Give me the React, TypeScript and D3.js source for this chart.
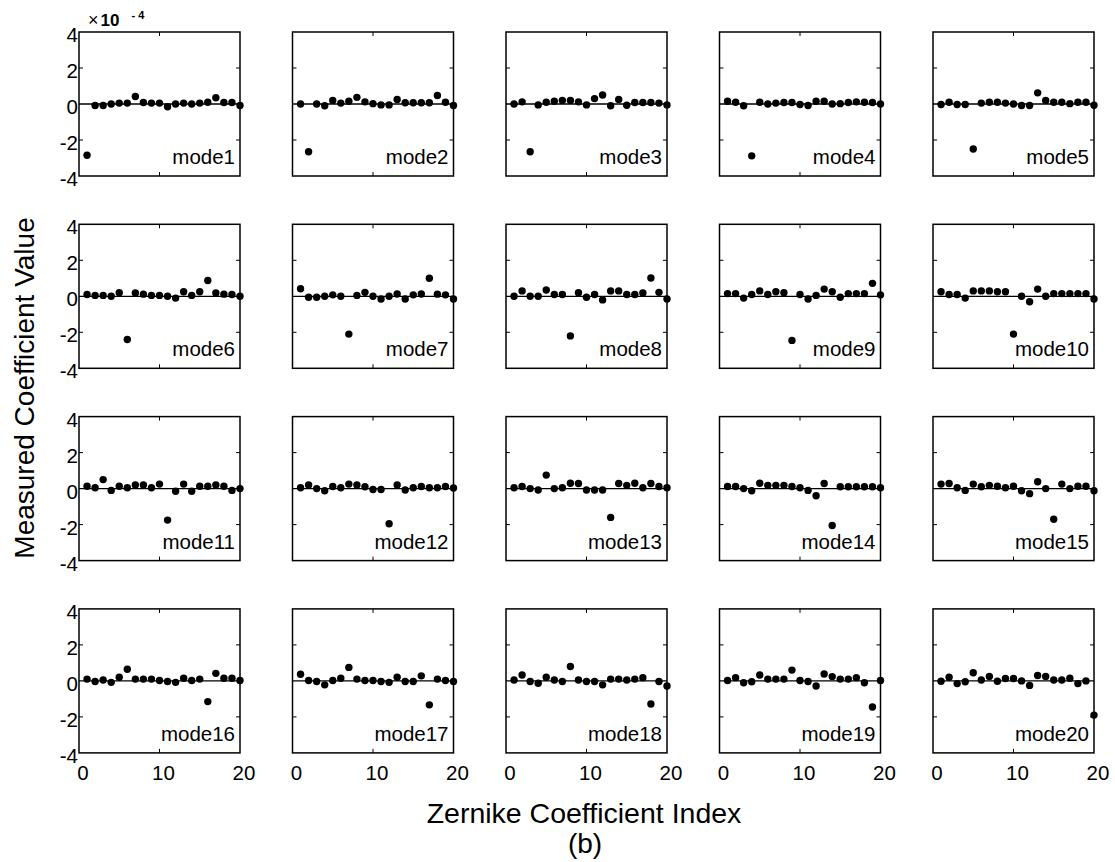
import * as d3 from "d3";
import React from "react";

// x positions of the measured coefficients
const zernikeIndex = [1, 2, 3, 4, 5, 6, 7, 8, 9, 10, 11, 12, 13, 14, 15, 16, 17, 18, 19, 20];

// measured coefficient values (x 10^-4), one array per applied mode
const mode1 = [-2.85, -0.08, -0.08, 0.0, 0.05, 0.05, 0.42, 0.08, 0.05, 0.05, -0.15, 0.0, 0.05, 0.0, 0.05, 0.1, 0.35, 0.08, 0.08, -0.08];
const mode2 = [0.0, -2.65, 0.0, -0.1, 0.2, 0.05, 0.15, 0.37, 0.12, 0.02, -0.05, -0.05, 0.25, 0.07, 0.07, 0.07, 0.07, 0.47, 0.1, -0.08];
const mode3 = [0.0, 0.12, -2.65, -0.05, 0.1, 0.15, 0.2, 0.2, 0.12, -0.05, 0.3, 0.5, -0.1, 0.25, -0.07, 0.08, 0.08, 0.08, 0.05, -0.05];
const mode4 = [0.15, 0.1, -0.1, -2.88, 0.1, 0.0, 0.05, 0.08, 0.08, -0.03, -0.08, 0.15, 0.15, 0.0, 0.02, 0.08, 0.12, 0.1, 0.08, 0.0];
const mode5 = [-0.03, 0.1, -0.03, -0.03, -2.5, 0.05, 0.1, 0.1, 0.05, 0.0, -0.08, -0.08, 0.62, 0.2, 0.1, 0.1, 0.02, 0.1, 0.1, -0.07];
const mode6 = [0.1, 0.05, 0.05, 0.0, 0.2, -2.4, 0.18, 0.12, 0.05, 0.05, 0.0, -0.1, 0.25, 0.05, 0.25, 0.88, 0.18, 0.12, 0.1, 0.0];
const mode7 = [0.42, -0.05, -0.05, 0.0, 0.08, 0.0, -2.1, 0.05, 0.22, 0.0, -0.15, 0.0, 0.13, -0.15, 0.08, 0.13, 1.0, 0.12, 0.08, -0.15];
const mode8 = [0.0, 0.3, 0.0, 0.0, 0.35, 0.1, 0.1, -2.2, 0.2, -0.05, 0.1, -0.2, 0.3, 0.3, 0.1, 0.1, 0.18, 1.02, 0.22, -0.15];
const mode9 = [0.15, 0.15, -0.1, 0.1, 0.3, 0.1, 0.25, 0.2, -2.45, 0.1, -0.15, 0.05, 0.4, 0.25, -0.05, 0.15, 0.15, 0.15, 0.72, 0.08];
const mode10 = [0.25, 0.1, 0.1, -0.1, 0.3, 0.3, 0.3, 0.25, 0.25, -2.1, 0.0, -0.3, 0.4, 0.0, 0.15, 0.15, 0.15, 0.15, 0.15, -0.15];
const mode11 = [0.13, 0.05, 0.5, -0.1, 0.13, 0.05, 0.2, 0.2, 0.05, 0.25, -1.75, -0.15, 0.25, -0.15, 0.13, 0.13, 0.2, 0.13, -0.1, 0.0];
const mode12 = [0.05, 0.2, 0.0, -0.12, 0.12, 0.05, 0.25, 0.2, 0.1, -0.05, -0.05, -1.95, 0.2, -0.08, 0.05, 0.12, 0.05, 0.05, 0.12, 0.03];
const mode13 = [0.05, 0.12, 0.0, -0.08, 0.75, 0.0, 0.05, 0.3, 0.28, -0.08, -0.08, -0.08, -1.6, 0.28, 0.18, 0.3, 0.05, 0.28, 0.12, 0.05];
const mode14 = [0.12, 0.12, 0.0, -0.12, 0.3, 0.18, 0.18, 0.18, 0.12, 0.05, -0.1, -0.4, 0.28, -2.05, 0.1, 0.1, 0.1, 0.1, 0.1, 0.05];
const mode15 = [0.25, 0.28, 0.05, -0.1, 0.25, 0.1, 0.18, 0.13, 0.05, 0.13, -0.12, -0.28, 0.38, 0.0, -1.7, 0.25, 0.0, 0.13, 0.13, -0.12];
const mode16 = [0.1, -0.03, 0.05, -0.08, 0.2, 0.65, 0.1, 0.1, 0.1, 0.02, -0.03, -0.08, 0.15, 0.02, 0.1, -1.15, 0.42, 0.15, 0.15, 0.02];
const mode17 = [0.37, 0.02, -0.03, -0.22, 0.02, 0.15, 0.75, 0.1, 0.02, 0.02, -0.03, -0.08, 0.2, -0.03, -0.03, 0.28, -1.33, 0.1, 0.02, -0.03];
const mode18 = [0.05, 0.33, -0.03, -0.13, 0.2, 0.05, -0.03, 0.8, 0.05, -0.03, -0.03, -0.22, 0.1, 0.1, 0.05, 0.1, 0.18, -1.28, -0.03, -0.28];
const mode19 = [0.02, 0.18, -0.1, -0.05, 0.33, 0.1, 0.1, 0.1, 0.6, 0.02, -0.03, -0.28, 0.38, 0.24, 0.1, 0.1, 0.18, -0.1, -1.45, 0.02];
const mode20 = [-0.02, 0.2, -0.15, -0.05, 0.45, 0.05, 0.25, -0.02, 0.13, 0.13, 0.0, -0.25, 0.3, 0.25, 0.05, 0.05, 0.15, -0.15, 0.0, -1.9];

const modes = [mode1, mode2, mode3, mode4, mode5, mode6, mode7, mode8, mode9, mode10,
  mode11, mode12, mode13, mode14, mode15, mode16, mode17, mode18, mode19, mode20];
const modeNames = modes.map((_, i) => `mode${i + 1}`);

const xTicks = [0, 10, 20];
const yTicks = [-4, -2, 0, 2, 4];

const FONT = "'Liberation Sans', Arial, Helvetica, sans-serif";
const W = 161;
const H = 144;
const COLS = 5;

function Panel({ values, name, row, col }) {
  const left = 79 + col * 213.5;
  const top = 32 + row * 192.3;
  const x = d3.scaleLinear().domain([0, 20]).range([0, W]);
  const y = d3.scaleLinear().domain([-4, 4]).range([H, 0]);
  const tick = 4;

  return (
    <g transform={`translate(${left},${top})`}>
      <rect x={0} y={0} width={W} height={H} fill="none" stroke="#000" strokeWidth={1.5} />
      {/* inner ticks */}
      {xTicks.slice(1, -1).map(t => (
        <g key={"xt" + t}>
          <line x1={x(t)} x2={x(t)} y1={H} y2={H - tick} stroke="#000" strokeWidth={1} />
          <line x1={x(t)} x2={x(t)} y1={0} y2={tick} stroke="#000" strokeWidth={1} />
        </g>
      ))}
      {yTicks.slice(1, -1).filter(t => t !== 0).map(t => (
        <g key={"yt" + t}>
          <line x1={0} x2={tick} y1={y(t)} y2={y(t)} stroke="#000" strokeWidth={1} />
          <line x1={W} x2={W - tick} y1={y(t)} y2={y(t)} stroke="#000" strokeWidth={1} />
        </g>
      ))}
      <line x1={0} x2={W} y1={y(0)} y2={y(0)} stroke="#000" strokeWidth={1.3} />
      {values.map((v, i) => (
        <circle key={i} cx={x(zernikeIndex[i])} cy={y(v)} r={3.7} fill="#000" />
      ))}
      <text x={W - 5} y={H - 12} textAnchor="end" fontFamily={FONT} fontSize={20.5} fill="#000">{name}</text>
      {col === 0 && yTicks.map(t => (
        <text key={"yl" + t} x={-1} y={y(t) + 10} textAnchor="end" fontFamily={FONT} fontSize={20.5} fill="#000">{t}</text>
      ))}
      {row === 3 && xTicks.map(t => (
        <text key={"xl" + t} x={x(t) + 4} y={H + 27} textAnchor="middle" fontFamily={FONT} fontSize={20.5} fill="#000">{t}</text>
      ))}
      {row === 0 && col === 0 && (
        <text x={9} y={-6} fontFamily={FONT} fill="#000">
          <tspan fontSize={18}>×</tspan>
          <tspan fontSize={17} fontWeight="bold" dx={2}>10</tspan>
          <tspan fontSize={11} fontWeight="bold" dx={12} dy={-7}>- 4</tspan>
        </text>
      )}
    </g>
  );
}

export default function App() {
  return (
    <svg width={1115} height={862} style={{ position: "absolute", left: 0, top: 0, background: "#fff" }}>
      <rect width={1115} height={862} fill="#fff" />
      {modes.map((vals, i) => (
        <Panel key={i} values={vals} name={modeNames[i]} row={Math.floor(i / COLS)} col={i % COLS} />
      ))}
      <text transform="translate(34,388) rotate(-90)" textAnchor="middle" fontFamily={FONT} fontSize={28} fill="#000">
        Measured Coefficient Value
      </text>
      <text x={584} y={823} textAnchor="middle" fontFamily={FONT} fontSize={28.5} fill="#000">
        Zernike Coefficient Index
      </text>
      <text x={585} y={853} textAnchor="middle" fontFamily={FONT} fontSize={28} fill="#000">(b)</text>
    </svg>
  );
}
